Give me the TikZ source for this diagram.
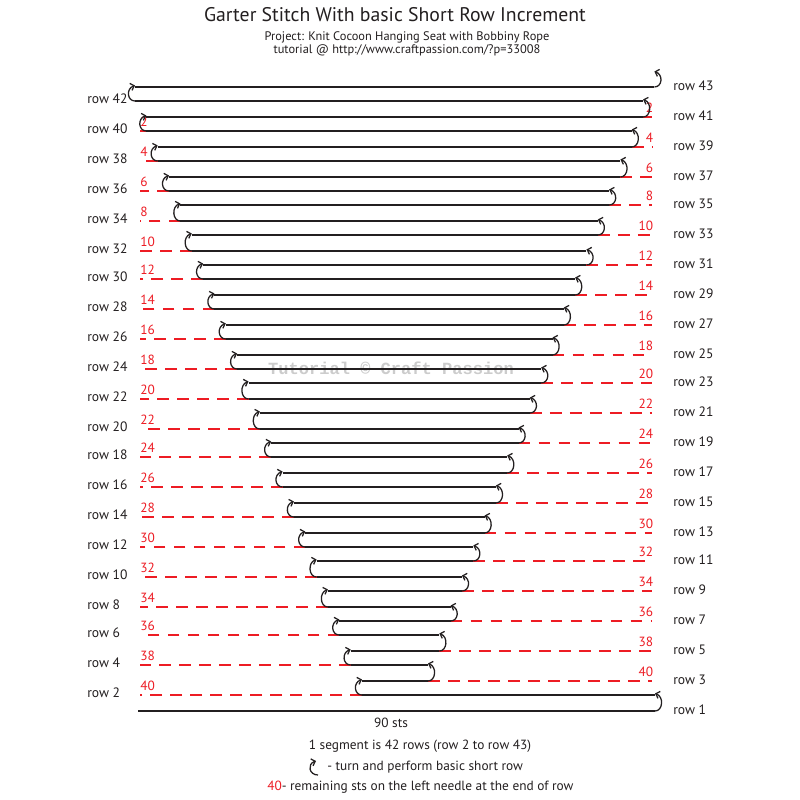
\documentclass[tikz,border=0pt]{standalone}
\usepackage{fontspec}
\setmainfont{PT Sans}
\newfontfamily\wmfont{Liberation Mono}
\usetikzlibrary{arrows.meta}
\definecolor{myred}{RGB}{237,28,36}
\definecolor{ink}{RGB}{35,31,32}
\tikzset{
  rowline/.style={draw=ink, line width=1.1pt},
  remline/.style={draw=myred, line width=1.5pt, dash pattern=on 8.8pt off 6.2pt},
  turnarrow/.style={draw=ink, line width=0.95pt, -{Straight Barb[length=2.6pt,width=5.5pt]}},
  rowlab/.style={font=\fontsize{10.2}{12}\selectfont, text=ink, inner sep=0pt},
  remlab/.style={font=\fontsize{10}{12}\selectfont, text=myred, inner sep=0pt},
  txt/.style={font=\fontsize{10}{12}\selectfont, text=ink, inner sep=0pt},
}
\begin{document}
\begin{tikzpicture}[x=0.75pt,y=-0.75pt]
\useasboundingbox[fill=white] (0,0) rectangle (800,800);

% titles
\node[txt, font=\fontsize{14.8}{17}\selectfont] (title) at (395,15) {Garter Stitch With basic Short Row Increment};
\node[txt, font=\fontsize{9.3}{11}\selectfont] (sub1) at (407,37) {Project: Knit Cocoon Hanging Seat with Bobbiny Rope};
\node[txt, font=\fontsize{9.3}{11}\selectfont] (sub2) at (407,50) {tutorial @ http://www.craftpassion.com/?p=33008};

% watermark
\node[inner sep=0pt, text=gray!40, font=\wmfont\bfseries\fontsize{12.8}{14}\selectfont] (wm) at (391,368) {Tutorial © Craft Passion};

% row end points (rows centred on odd pixel rows)
\foreach \n in {1,...,43}{
  \pgfmathsetmacro\yy{2*round((710-(\n-1)*14.83-1)/2)+1}
  \pgfmathsetmacro\ya{2*round((710-\n*14.83-1)/2)+1-1.5}
  \pgfmathtruncatemacro\odd{mod(\n,2)}
  \ifnum\odd=1
    \ifnum\n=1 \def\xe{655}\else \pgfmathsetmacro\xe{428+((\n-1)/2-1)*11.32}\fi
  \else
    \pgfmathsetmacro\xe{362-(\n/2-1)*11.35}
  \fi
  \coordinate (e\n) at (\xe,\yy);
  \coordinate (a\n) at (\xe,\ya);
  \coordinate (ol\n) at (140,\yy);
  \coordinate (or\n) at (652,\yy);
}
\coordinate (s1) at (138,711);

% red remaining lines and numbers
\foreach \n in {2,4,...,40}{
  \pgfmathtruncatemacro\rem{42-\n}
  \draw[remline] (e\n) -- (ol\n);
  \node[remlab, anchor=south west] (rl\n) at ([yshift=3pt]ol\n) {\rem};
}
\foreach \n in {3,5,...,41}{
  \pgfmathtruncatemacro\rem{43-\n}
  \draw[remline] (e\n) -- (or\n);
  \node[remlab, anchor=south east] (rr\n) at ([xshift=1pt,yshift=3pt]or\n) {\rem};
}

% black rows
\draw[rowline] (s1) -- (e1);
\foreach \n [evaluate=\n as \m using int(\n-1)] in {2,...,43}{
  \draw[rowline] (e\m |- e\n) -- (e\n);
}

% turns
\foreach \n in {1,3,...,43}{
  \draw[turnarrow] (e\n) .. controls +(8,0) and +(9,3) .. (a\n);
}
\foreach \n in {2,4,...,42}{
  \draw[turnarrow] (e\n) .. controls +(-8,0) and +(-9,3) .. (a\n);
}

% row labels
\foreach \n in {1,3,...,43}{
  \node[rowlab, anchor=west] (lab\n) at ([yshift=0.8pt]e\n -| 673,0) {row \n};
}
\foreach \n in {2,4,...,42}{
  \node[rowlab, anchor=west] (lab\n) at ([yshift=1.5pt]e\n -| 87,0) {row \n};
}

% bottom text
\node[txt] (sts) at (391,723) {90 sts};
\node[txt] (seg) at (420,746) {1 segment is 42 rows (row 2 to row 43)};
\coordinate (ls) at (318,775);
\coordinate (le) at (316,761);
\draw[turnarrow] (ls) .. controls +(-9,0) and +(-9,3) .. (le);
\node[txt, anchor=west] (leg1) at (327,767) {- turn and perform basic short row};
\node[txt, anchor=west] (leg2) at (267,787) {\textcolor{myred}{40}- remaining sts on the left needle at the end of row};
\end{tikzpicture}
\end{document}
